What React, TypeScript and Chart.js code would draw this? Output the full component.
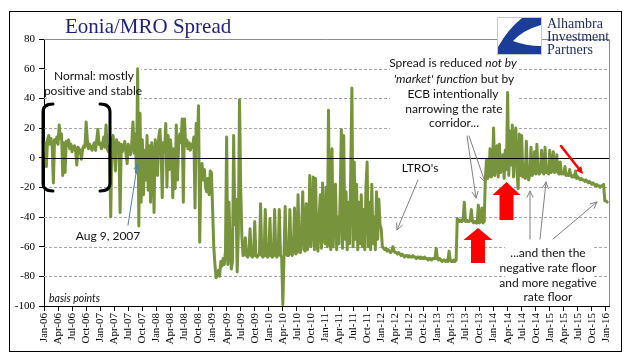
import React, { useEffect, useRef } from 'react';
import { Chart, registerables } from 'chart.js';

Chart.register(...registerables);

// ---- Data ----
const quarterLabels = [
  'Jan-06', 'Apr-06', 'Jul-06', 'Oct-06', 'Jan-07', 'Apr-07', 'Jul-07', 'Oct-07',
  'Jan-08', 'Apr-08', 'Jul-08', 'Oct-08', 'Jan-09', 'Apr-09', 'Jul-09', 'Oct-09',
  'Jan-10', 'Apr-10', 'Jul-10', 'Oct-10', 'Jan-11', 'Apr-11', 'Jul-11', 'Oct-11',
  'Jan-12', 'Apr-12', 'Jul-12', 'Oct-12', 'Jan-13', 'Apr-13', 'Jul-13', 'Oct-13',
  'Jan-14', 'Apr-14', 'Jul-14', 'Oct-14', 'Jan-15', 'Apr-15', 'Jul-15', 'Oct-15',
  'Jan-16',
];
const yTicks = [-100, -80, -60, -40, -20, 0, 20, 40, 60, 80];
const samplesPerMonth = 4; // roughly weekly readings, basis points

const spread2006 = [5, 10, -6, 12, 15, 9, 13, 8, -17, 12, 10, 14, 9, 22, 13, 16, -12, 10, -10, 11, 8, 12, 6, 9, 4, 7, 8, 5, -5, 7, 6, 4, -1, 6, 8, 7, 24, 12, 6, 9, 7, 5, 8, 10, 5, 12, 19, 9];
const spread2007 = [10, 6, 9, 14, 7, 22, 6, 4, 8, -40, 11, 15, 6, -9, 12, 5, 10, -37, 9, 4, 7, 11, 3, -4, 9, 6, 2, 10, 24, 3, 16, -10, 60, -46, 30, -30, 12, -25, 5, -15, 15, -22, 8, -30, 10, 2, -37, 12];
const spread2008 = [8, -12, 14, 19, 5, -27, 10, 4, 23, -20, 15, -8, 12, 3, -27, 6, -21, 22, -15, 9, 16, 10, 26, -30, 26, 8, 12, 6, 10, 5, 9, 7, 14, -34, 23, 8, 35, -57, -10, -4, -15, -8, -20, -23, -14, -25, -9, -10];
const spread2009 = [-34, -60, -72, -81, -79, -76, -80, -70, -73, -68, -72, -63, 14, -72, -30, -60, -75, -70, 15, -45, -28, -77, -50, 39, -20, -53, -66, -65, -54, -66, -67, -65, -48, -66, -67, -66, -43, -66, -67, -66, -65, -31, -66, -67, -66, -35, -66, -67];
const spread2010 = [-66, -41, -66, -67, -66, -35, -66, -67, -65, -35, -66, -67, -99, -66, -33, -65, -66, -66, -35, -64, -66, -60, -34, -65, -64, -25, -63, -64, -50, -23, -62, -63, -31, -62, -55, -12, -60, -45, -13, -62, -14, -58, -63, -40, -25, -61, -17, -55];
const spread2011 = [-58, -20, -60, 32, -55, -62, 6, -60, -35, -18, -62, -40, -58, -25, 19, -61, 15, -55, -23, -62, -30, -58, -10, 47, -60, -3, -55, -18, -62, -30, -58, -25, -60, -35, -62, -20, -3, -60, -30, -62, -18, -58, -40, -62, -23, -55, -28, -45];
const spread2012 = [-48, -60, -61, -62, -61, -63, -62, -63, -64, -63, -60, -63, -64, -64, -65, -64, -65, -66, -65, -66, -67, -66, -66, -67, -66, -67, -67, -66, -67, -67, -68, -67, -67, -68, -67, -68, -68, -67, -68, -68, -69, -68, -68, -69, -68, -68, -68, -61];
const spread2013 = [-68, -69, -68, -69, -70, -69, -69, -70, -69, -70, -63, -69, -70, -70, -69, -70, -69, -41, -42, -43, -42, -43, -42, -30, -43, -42, -43, -43, -42, -35, -43, -44, -43, -44, -44, -32, -44, -43, -34, -44, -43, -14, -1, -14, -12, 6, -13, -11];
const spread2014 = [20, -12, -5, 8, -13, 9, -10, -3, 2, -14, 5, -8, 44, -12, 18, -5, 22, -13, 14, 20, -10, -21, 16, -12, 15, -13, -5, -14, 11, -12, -15, -11, 7, -12, -10, 4, -11, 9, -10, -11, -9, 5, -10, -11, 7, -10, -9, -11];
const spread2015 = [5, -10, -9, 4, -10, -9, 2, -10, -11, -3, -11, -10, -11, -6, -12, -11, -12, -8, -12, -13, -12, -13, -9, -14, -13, -14, -15, -14, -15, -15, -16, -15, -16, -17, -16, -17, -18, -17, -18, -19, -18, -19, -19, -20, -19, -19, -18, -29];
const spread2016 = [-29, -30];

const allSpread = [
  ...spread2006, ...spread2007, ...spread2008, ...spread2009, ...spread2010,
  ...spread2011, ...spread2012, ...spread2013, ...spread2014, ...spread2015, ...spread2016,
];
const points = allSpread.map((v, i) => ({ x: i / samplesPerMonth, y: v }));

// ---- Styling ----
const SERIF = '"Liberation Serif", "Times New Roman", serif';
const SANS = 'Lato, "Open Sans", sans-serif';
const LINE_GREEN = '#77933c';
const NAVY = '#1f1f78';

type Seg = [string, boolean];

function segLine(ctx: CanvasRenderingContext2D, segs: Seg[], cx: number, cy: number, size: number) {
  let total = 0;
  const widths = segs.map(([t, it]) => {
    ctx.font = `${it ? 'italic ' : ''}${size}px ${SANS}`;
    const w = ctx.measureText(t).width;
    total += w;
    return w;
  });
  let x = cx - total / 2;
  ctx.textAlign = 'left';
  ctx.textBaseline = 'middle';
  segs.forEach(([t, it], i) => {
    ctx.font = `${it ? 'italic ' : ''}${size}px ${SANS}`;
    ctx.fillText(t, x, cy);
    x += widths[i];
  });
}

function arrow(ctx: CanvasRenderingContext2D, x1: number, y1: number, x2: number, y2: number, color: string, width: number, head: number, filled: boolean) {
  const ang = Math.atan2(y2 - y1, x2 - x1);
  ctx.save();
  ctx.strokeStyle = color;
  ctx.fillStyle = color;
  ctx.lineWidth = width;
  ctx.beginPath();
  ctx.moveTo(x1, y1);
  ctx.lineTo(x2 - (filled ? Math.cos(ang) * head * 0.6 : 0), y2 - (filled ? Math.sin(ang) * head * 0.6 : 0));
  ctx.stroke();
  const a1 = ang + Math.PI - 0.45;
  const a2 = ang + Math.PI + 0.45;
  ctx.beginPath();
  ctx.moveTo(x2 + Math.cos(a1) * head, y2 + Math.sin(a1) * head);
  ctx.lineTo(x2, y2);
  ctx.lineTo(x2 + Math.cos(a2) * head, y2 + Math.sin(a2) * head);
  if (filled) {
    ctx.closePath();
    ctx.fill();
  } else {
    ctx.stroke();
  }
  ctx.restore();
}

function blockArrow(ctx: CanvasRenderingContext2D, tipX: number, tipY: number, headW: number, headH: number, shaftW: number, bottom: number) {
  ctx.save();
  ctx.fillStyle = '#ff0000';
  ctx.beginPath();
  ctx.moveTo(tipX, tipY);
  ctx.lineTo(tipX + headW / 2, tipY + headH);
  ctx.lineTo(tipX + shaftW / 2, tipY + headH);
  ctx.lineTo(tipX + shaftW / 2, bottom);
  ctx.lineTo(tipX - shaftW / 2, bottom);
  ctx.lineTo(tipX - shaftW / 2, tipY + headH);
  ctx.lineTo(tipX - headW / 2, tipY + headH);
  ctx.closePath();
  ctx.fill();
  ctx.restore();
}

const decorPlugin = {
  id: 'decor',
  beforeDatasetsDraw(chart: any) {
    const { ctx, chartArea: a, scales } = chart;
    const y = scales.y;
    ctx.save();
    ctx.lineWidth = 1;
    ctx.strokeStyle = '#a6a6a6';
    ctx.setLineDash([3, 2]);
    for (const t of yTicks) {
      if (t === 0 || t === 80 || t === -100) continue;
      const py = Math.round(y.getPixelForValue(t)) + 0.5;
      ctx.beginPath();
      ctx.moveTo(a.left, py);
      ctx.lineTo(a.right, py);
      ctx.stroke();
    }
    ctx.setLineDash([]);
    ctx.strokeStyle = '#8c8c8c';
    const top = Math.round(y.getPixelForValue(80)) + 0.5;
    ctx.beginPath();
    ctx.moveTo(a.left, top);
    ctx.lineTo(a.right + 0.5, top);
    ctx.moveTo(Math.round(a.right) + 0.5, top);
    ctx.lineTo(Math.round(a.right) + 0.5, a.bottom);
    ctx.stroke();
    // text box backgrounds
    ctx.fillStyle = '#ffffff';
    ctx.fillRect(47, 69, 94, 31);
    ctx.fillRect(390, 55, 128, 76);
    ctx.fillRect(505, 245, 88, 59);
    ctx.restore();
  },
  afterDatasetsDraw(chart: any) {
    const { ctx, chartArea: a, scales } = chart;
    const y = scales.y;
    ctx.save();
    // zero line
    const zy = Math.round(y.getPixelForValue(0)) + 0.5;
    ctx.strokeStyle = '#000';
    ctx.lineWidth = 1;
    ctx.beginPath();
    ctx.moveTo(a.left, zy);
    ctx.lineTo(a.right, zy);
    ctx.stroke();

    // brackets
    ctx.lineWidth = 3;
    ctx.lineCap = 'round';
    ctx.beginPath();
    ctx.moveTo(53, 104);
    ctx.quadraticCurveTo(43, 104, 43, 112);
    ctx.lineTo(43, 183);
    ctx.quadraticCurveTo(43, 191, 53, 191);
    ctx.moveTo(100, 104);
    ctx.quadraticCurveTo(110, 104, 110, 112);
    ctx.lineTo(110, 183);
    ctx.quadraticCurveTo(110, 191, 100, 191);
    ctx.stroke();

    // texts
    ctx.fillStyle = '#111';
    segLine(ctx, [['Normal: mostly', false]], 94, 76, 12);
    segLine(ctx, [['positive and stable', false]], 93, 91, 12);
    segLine(ctx, [['Aug 9, 2007', false]], 108, 236, 12);
    segLine(ctx, [['Spread is reduced ', false], ['not by', true]], 453, 63, 12);
    segLine(ctx, [["'market' function", true], [' but by', false]], 454, 79, 12);
    segLine(ctx, [['ECB intentionally', false]], 453, 94, 12);
    segLine(ctx, [['narrowing the rate', false]], 454, 109, 12);
    segLine(ctx, [['corridor...', false]], 454, 123, 12);
    segLine(ctx, [["LTRO's", false]], 420, 168, 12);
    segLine(ctx, [['...and then the', false]], 548, 253, 12);
    segLine(ctx, [['negative rate floor', false]], 548, 268, 12);
    segLine(ctx, [['and more negative', false]], 548, 283, 12);
    segLine(ctx, [['rate floor', false]], 548, 297, 12);
    ctx.font = `italic 10.5px ${SANS}`;
    ctx.textAlign = 'left';
    ctx.textBaseline = 'middle';
    ctx.fillText('basis points', 49, 299);

    // arrows
    arrow(ctx, 128, 225, 137.5, 164, '#4f7fb8', 1, 6, false);
    arrow(ctx, 418, 180, 397, 230, '#808080', 1, 7, false);
    arrow(ctx, 467, 136, 476, 198, '#808080', 1, 7, false);
    arrow(ctx, 469, 136, 485, 182, '#808080', 1, 7, false);
    arrow(ctx, 530, 239, 530, 191, '#808080', 1, 7, false);
    arrow(ctx, 540, 239, 546, 182, '#808080', 1, 7, false);
    arrow(ctx, 553, 239, 597, 202, '#808080', 1, 7, false);
    arrow(ctx, 561, 146, 583, 174, '#ff0000', 2.5, 8, true);
    blockArrow(ctx, 478, 228, 29, 12, 14, 263);
    blockArrow(ctx, 506.5, 182, 28, 13, 14, 220);

    // title
    ctx.fillStyle = NAVY;
    ctx.font = `21px ${SERIF}`;
    ctx.textAlign = 'left';
    ctx.textBaseline = 'alphabetic';
    ctx.fillText('Eonia/MRO Spread', 65, 33);

    // logo
    ctx.fillStyle = '#ffffff';
    ctx.fillRect(497, 17, 45, 38);
    ctx.strokeStyle = '#c8c8c8';
    ctx.lineWidth = 1;
    ctx.strokeRect(497.5, 17.5, 44, 37);
    ctx.fillStyle = '#1c3d97';
    ctx.beginPath();
    ctx.moveTo(522, 18);
    ctx.lineTo(541, 18);
    ctx.lineTo(541, 25);
    ctx.quadraticCurveTo(523, 30, 513, 41);
    ctx.quadraticCurveTo(526, 46, 541, 46);
    ctx.lineTo(541, 54);
    ctx.lineTo(498, 54);
    ctx.lineTo(498, 47);
    ctx.quadraticCurveTo(508, 29, 522, 18);
    ctx.closePath();
    ctx.fill();
    ctx.fillStyle = '#1c2a5e';
    ctx.font = `14px ${SERIF}`;
    ctx.fillText('Alhambra', 547, 28);
    ctx.fillText('Investment', 547, 41);
    ctx.fillText('Partners', 547, 54);

    // outer border
    ctx.strokeStyle = '#000';
    ctx.lineWidth = 1;
    ctx.strokeRect(9.5, 11.5, 612, 340);
    ctx.restore();
  },
};

export default function App() {
  const ref = useRef<HTMLCanvasElement | null>(null);
  useEffect(() => {
    if (!ref.current) return;
    const chart = new Chart(ref.current, {
      type: 'line',
      data: {
        datasets: [
          {
            label: 'Eonia/MRO Spread',
            data: points,
            borderColor: LINE_GREEN,
            backgroundColor: LINE_GREEN,
            borderWidth: 3,
            pointRadius: 0,
            tension: 0,
            borderJoinStyle: 'round',
            borderCapStyle: 'round',
            fill: false,
          },
        ],
      },
      options: {
        responsive: false,
        devicePixelRatio: 1,
        animation: false,
        layout: { padding: { top: 39, right: 25, left: 0, bottom: 0 } },
        plugins: { legend: { display: false }, tooltip: { enabled: false }, title: { display: false } },
        scales: {
          x: {
            type: 'linear',
            min: 0,
            max: 120.65,
            afterBuildTicks: (s: any) => {
              s.ticks = quarterLabels.map((_, i) => ({ value: i * 3 }));
            },
            afterFit: (s: any) => {
              s.height = 55;
            },
            ticks: {
              autoSkip: false,
              maxRotation: 90,
              minRotation: 90,
              padding: 2,
              color: '#000',
              font: { family: SERIF, size: 11 },
              callback: (_v: any, i: number) => quarterLabels[i],
            },
            grid: { drawOnChartArea: false, drawTicks: true, tickLength: 5, tickColor: '#000' },
            border: { color: '#000' },
          },
          y: {
            type: 'linear',
            min: -100,
            max: 80,
            afterFit: (s: any) => {
              s.width = 44;
            },
            ticks: { stepSize: 20, padding: 4, color: '#000', font: { family: SERIF, size: 11 } },
            grid: { drawOnChartArea: false, drawTicks: true, tickLength: 5, tickColor: '#000' },
            border: { color: '#000' },
          },
        },
      },
      plugins: [decorPlugin],
    } as any);
    return () => chart.destroy();
  }, []);
  return (
    <div style={{ position: 'fixed', left: 0, top: 0, width: 634, height: 361, background: '#fff' }}>
      <canvas ref={ref} width={634} height={361} style={{ display: 'block' }} />
    </div>
  );
}
